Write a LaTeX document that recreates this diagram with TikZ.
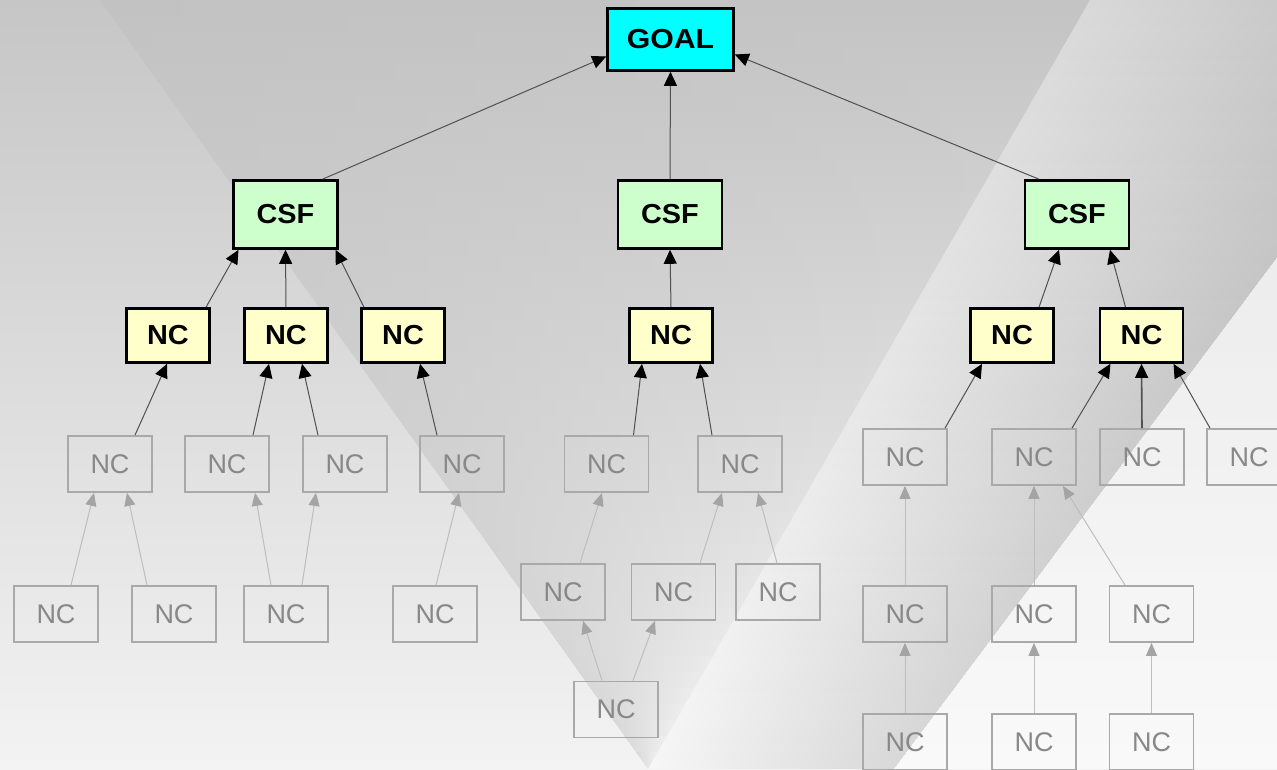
\documentclass[tikz,border=0pt]{standalone}
\usepackage{fontspec}
\setmainfont{Liberation Sans}
\usetikzlibrary{arrows.meta,calc}

\definecolor{goalfill}{HTML}{00FFFF}
\definecolor{csffill}{HTML}{CCFFCC}
\definecolor{ncfill}{HTML}{FFFFCC}
\definecolor{faintline}{HTML}{A9A9A9}
\definecolor{fainttext}{HTML}{888888}
\definecolor{linkdark}{HTML}{505050}
\definecolor{linkfaint}{HTML}{BDBDBD}
\definecolor{tipfaint}{HTML}{A4A4A4}
\definecolor{bgtop}{HTML}{C6C6C6}
\definecolor{bgbot}{HTML}{F3F3F3}

\begin{document}
\begin{tikzpicture}[x=1pt,y=-1pt,
  box/.style={rectangle, draw=black, line width=2.6pt, inner sep=0pt,
    font=\fontsize{27.5}{27.5}\selectfont\bfseries\addfontfeature{FakeStretch=1.05}},
  goalbox/.style={box, fill=goalfill, minimum width=126pt, minimum height=62pt},
  csfbox/.style={box, fill=csffill, minimum width=104pt, minimum height=68pt},
  ncbox/.style={box, fill=ncfill, minimum width=83pt, minimum height=54pt},
  faintbox/.style={rectangle, draw=faintline, line width=1.8pt, inner sep=0pt,
    minimum width=84pt, minimum height=56pt, text=fainttext,
    font=\fontsize{27}{27}\selectfont},
  link/.style={draw=linkdark, line width=1pt,
    -{Triangle[length=14pt,width=13pt,color=black]}},
  faintlink/.style={draw=linkfaint, line width=1pt,
    -{Triangle[length=13pt,width=11pt,color=tipfaint]}}
]
\useasboundingbox (0,0) rectangle (1277,769);

% ---- backdrop: grey gradient with diagonal bands ----
\begin{scope}
  \clip (0,0) rectangle (1277,769);
  \shade[top color=bgtop, bottom color=bgbot] (0,0) rectangle (1277,769);
  % V-shaped wedge, built from horizontal slices: shadow strongest
  % along the left edge and growing towards the bottom
  \foreach \j in {0,...,47}{
    \pgfmathsetmacro\fa{\j*16/769}
    \pgfmathsetmacro\fb{min(\j*16+17,769)/769}
    \pgfmathsetmacro\fm{(\fa+\fb)/2}
    \pgfmathsetmacro\base{(198+45*\fm)/255}
    \pgfmathsetmacro\dm{0.02+0.09*\fm}
    \pgfmathsetmacro\cL{\base*(1-\dm)}
    \pgfmathsetmacro\cM{\base*(1-0.35*\dm)}
    \pgfmathsetmacro\cR{\base*0.99}
    \definecolor{wedgeL}{gray}{\cL}
    \definecolor{wedgeM}{gray}{\cM}
    \definecolor{wedgeR}{gray}{\cR}
    \shade[left color=wedgeL, middle color=wedgeM, right color=wedgeR]
      ({100+548*\fa},{769*\fa}) -- ({1090-442*\fa},{769*\fa})
      -- ({1090-442*\fb},{769*\fb}) -- ({100+548*\fb},{769*\fb}) -- cycle;
  }
  % lighter area to the right of the wedge
  \fill[white, fill opacity=0.35] (1090,0) -- (1700,0) -- (1700,769) -- (648,769) -- cycle;
  % ribbon darkening towards its right edge
  \foreach \i in {0,...,29}{
    \pgfmathsetmacro\ta{\i/30}
    \fill[black, fill opacity=0.0035]
      ({1090+380*\ta},0) -- (1470,0) -- (894,769) -- ({648+246*\ta},769) -- cycle;
  }
  % bright area beyond the ribbon
  \fill[white, fill opacity=0.35] (1470,0) -- (1700,0) -- (1700,769) -- (894,769) -- cycle;
\end{scope}

% ---- goal and critical success factors ----
\node[goalbox] (goal) at (670.5,39.5) {\addfontfeature{FakeStretch=1.1}GOAL};
\node[csfbox] (csfL) at (285.5,214.5) {CSF};
\node[csfbox] (csfM) at (670,214.5) {CSF};
\node[csfbox] (csfR) at (1077,214.5) {CSF};

% ---- necessary conditions, first level ----
\node[ncbox] (y1) at (168,335.5) {NC};
\node[ncbox] (y2) at (286,335.5) {NC};
\node[ncbox] (y3) at (403,335.5) {NC};
\node[ncbox] (y4) at (671,335.5) {NC};
\node[ncbox] (y5) at (1012,335.5) {NC};
\node[ncbox] (y6) at (1141.5,335.5) {NC};

% ---- deeper necessary conditions ----
\node[faintbox] (g1) at (110,464) {NC};
\node[faintbox] (g2) at (227,464) {NC};
\node[faintbox] (g3) at (345,464) {NC};
\node[faintbox] (g4) at (462,464) {NC};
\node[faintbox] (g5) at (606.5,464) {NC};
\node[faintbox] (g6) at (740,464) {NC};
\node[faintbox] (r1) at (905,457) {NC};
\node[faintbox] (r2) at (1034,457) {NC};
\node[faintbox] (r3) at (1142,457) {NC};
\node[faintbox] (r4) at (1249,457) {NC};

\node[faintbox] (a1) at (56,614) {NC};
\node[faintbox] (a2) at (174,614) {NC};
\node[faintbox] (a3) at (286,614) {NC};
\node[faintbox] (a4) at (435,614) {NC};
\node[faintbox] (m1) at (563,592) {NC};
\node[faintbox] (m2) at (673.5,592) {NC};
\node[faintbox] (m3) at (778,592) {NC};
\node[faintbox] (m5) at (616,709.5) {NC};
\node[faintbox] (b1) at (905,614) {NC};
\node[faintbox] (b2) at (1034,614) {NC};
\node[faintbox] (b3) at (1151.5,614) {NC};
\node[faintbox] (c1) at (905,742) {NC};
\node[faintbox] (c2) at (1034,742) {NC};
\node[faintbox] (c3) at (1151.5,742) {NC};

% ---- links into the goal ----
\draw[link] ($(csfL.north)+(37,0)$) -- ($(goal.west)+(0,17)$);
\draw[link] (csfM.north) -- (goal.south);
\draw[link] ($(csfR.north)+(-38,0)$) -- ($(goal.east)+(0,15)$);

% ---- links into the CSFs ----
\draw[link] ($(y1.north)+(38,0)$) -- ($(csfL.south)+(-47,0)$);
\draw[link] (y2.north) -- (csfL.south);
\draw[link] ($(y3.north)+(-39,0)$) -- ($(csfL.south)+(50,0)$);
\draw[link] (y4.north) -- (csfM.south);
\draw[link] ($(y5.north)+(27,0)$) -- ($(csfR.south)+(-18,0)$);
\draw[link] ($(y6.north)+(-16,0)$) -- ($(csfR.south)+(33,0)$);

% ---- links into the first-level NCs ----
\draw[link] ($(g1.north)+(25,0)$) -- ($(y1.south)+(-1,0)$);
\draw[link] ($(g2.north)+(26,0)$) -- ($(y2.south)+(-17,0)$);
\draw[link] ($(g3.north)+(-27,0)$) -- ($(y2.south)+(16,0)$);
\draw[link] ($(g4.north)+(-25,0)$) -- ($(y3.south)+(17,0)$);
\draw[link] ($(g5.north)+(27,0)$) -- ($(y4.south)+(-29,0)$);
\draw[link] ($(g6.north)+(-28,0)$) -- ($(y4.south)+(29,0)$);
\draw[link] ($(r1.north)+(40,0)$) -- ($(y5.south)+(-30,0)$);
\draw[link] ($(r2.north)+(38,0)$) -- ($(y6.south)+(-31,0)$);
\draw[link, line width=1.6pt] (r3.north) -- (y6.south);
\draw[link] ($(r4.north)+(-39,0)$) -- ($(y6.south)+(32,0)$);

% ---- faint links between deeper NCs ----
\draw[faintlink] ($(a1.north)+(15,0)$) -- ($(g1.south)+(-16,0)$);
\draw[faintlink] ($(a2.north)+(-27,0)$) -- ($(g1.south)+(17,0)$);
\draw[faintlink] ($(a3.north)+(-15,0)$) -- ($(g2.south)+(28,0)$);
\draw[faintlink] ($(a3.north)+(16,0)$) -- ($(g3.south)+(-29,0)$);
\draw[faintlink] ($(a4.north)+(1,0)$) -- ($(g4.south)+(-3,0)$);
\draw[faintlink] ($(m1.north)+(17,0)$) -- ($(g5.south)+(-4.5,0)$);
\draw[faintlink] ($(m2.north)+(26.5,0)$) -- ($(g6.south)+(-18,0)$);
\draw[faintlink] ($(m3.north)+(-1,0)$) -- ($(g6.south)+(18,0)$);
\draw[faintlink] ($(m5.north)+(-14,0)$) -- ($(m1.south)+(20,0)$);
\draw[faintlink] ($(m5.north)+(17,0)$) -- ($(m2.south)+(-18.5,0)$);
\draw[faintlink] (b1.north) -- (r1.south);
\draw[faintlink] (b2.north) -- (r2.south);
\draw[faintlink] ($(b3.north)+(-26.5,0)$) -- ($(r2.south)+(29,0)$);
\draw[faintlink] (c1.north) -- (b1.south);
\draw[faintlink] (c2.north) -- (b2.south);
\draw[faintlink] (c3.north) -- (b3.south);
\end{tikzpicture}
\end{document}
